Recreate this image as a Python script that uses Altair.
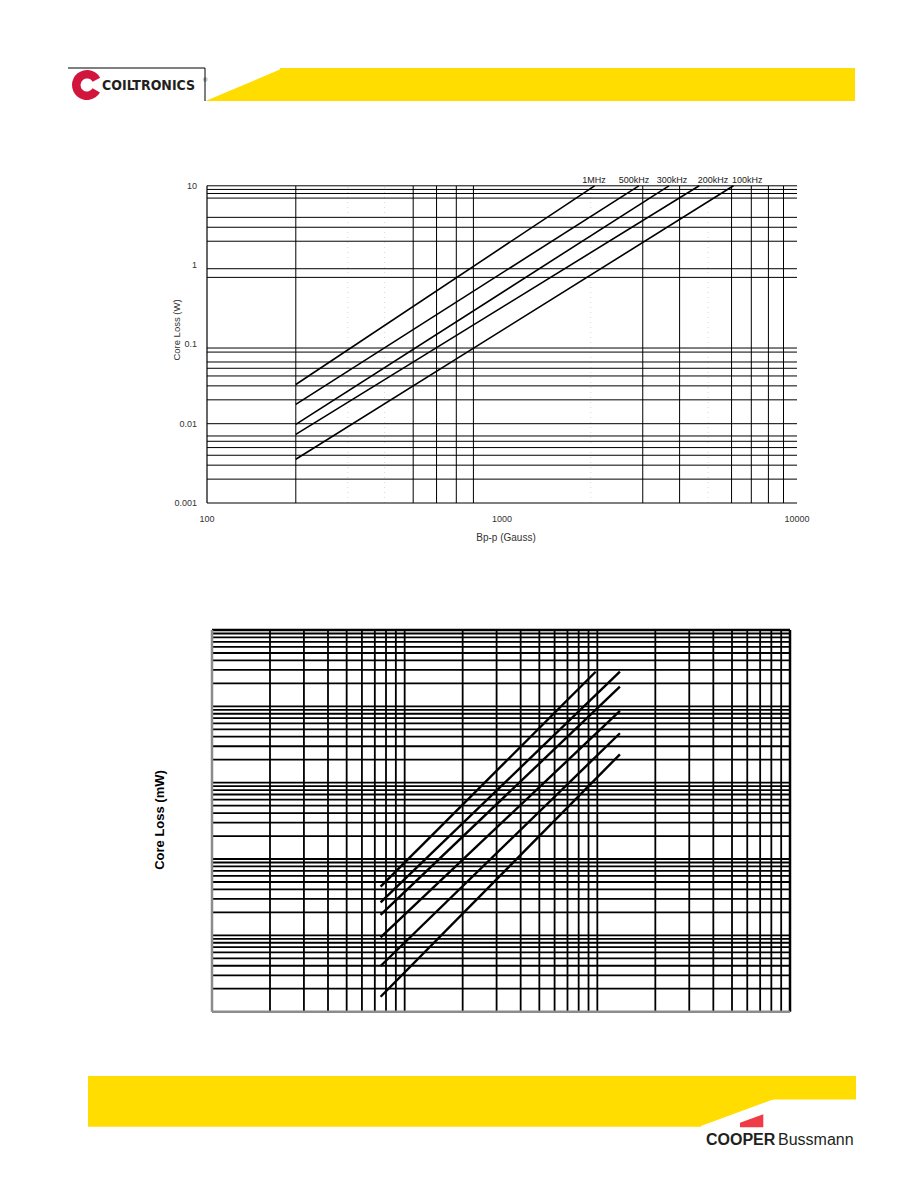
import altair as alt
import pandas as pd

# ---------------- data : upper chart (Core Loss (W) vs Bp-p (Gauss)) ----------------
top_series = ["1MHz", "500kHz", "300kHz", "200kHz", "100kHz"]
top_b_start = [200, 200, 200, 200, 200]
top_loss_start = [0.0312, 0.0175, 0.0098, 0.00733, 0.00356]
top_b_end = [2060, 2910, 3680, 4660, 6090]
top_loss_end = [10, 10, 10, 10, 10]
top_label_b = [2050, 2800, 3770, 5190, 6780]

top_x_ticks = [100, 1000, 10000]
top_x_tick_labels = ["100", "1000", "10000"]
top_y_ticks = [10, 1, 0.1, 0.01, 0.001]
top_y_tick_labels = ["10", "1", "0.1", "0.01", "0.001"]
top_x_grid = [200, 500, 600, 700, 800, 3000, 4000, 6000, 7000, 8000, 9000]
top_x_grid_faint = [300, 400, 2000, 5000]
top_y_grid = [9, 8, 7, 4, 3, 2, 0.9, 0.7, 0.09, 0.08, 0.06, 0.05, 0.04, 0.03,
              0.02, 0.01, 0.007, 0.006, 0.005, 0.004, 0.003, 0.002]

# ---------------- data : lower chart (Core Loss (mW)) ----------------
bot_series = ["s1", "s2", "s3", "s4", "s5", "s6"]
bot_b_start = [75, 75, 75, 75, 75, 75]
bot_loss_start = [0.434, 0.271, 0.185, 0.0944, 0.0397, 0.0157]
bot_b_end = [980, 1310, 1310, 1310, 1310, 1310]
bot_loss_end = [284, 284, 181, 86.9, 44.4, 23.5]
bot_x_grid = [20, 30, 40, 50, 60, 70, 80, 90, 100,
              200, 300, 400, 500, 600, 700, 800, 900, 1000,
              2000, 3000, 4000, 5000, 6000, 7000, 8000, 9000]
bot_y_grid = [0.02, 0.03, 0.04, 0.05, 0.06, 0.07, 0.08, 0.09, 0.1,
              0.2, 0.3, 0.4, 0.5, 0.6, 0.7, 0.8, 0.9, 1,
              2, 3, 4, 5, 6, 7, 8, 9, 10,
              20, 30, 40, 50, 60, 70, 80, 90, 100,
              200, 300, 400, 500, 600, 700, 800, 900]

FONT = "Liberation Sans, Arial, sans-serif"
COND = "DejaVu Sans Condensed, Liberation Sans Narrow, Liberation Sans, sans-serif"
YELLOW = "#FFDD00"

# scales (explicit pixel ranges place each panel on the page)
top_x = alt.Scale(type="log", domain=[100, 10000], range=[199, 789], nice=False)
top_y = alt.Scale(type="log", domain=[0.001, 10], range=[495, 177.8], nice=False)
bot_x = alt.Scale(type="log", domain=[10, 10000], range=[204, 782], nice=False)
bot_y = alt.Scale(type="log", domain=[0.01, 1000], range=[1003.7, 622], nice=False)

dummy = pd.DataFrame({"a": [0]})


def line_frame(series, x0, y0, x1, y1):
    rows = []
    for s, a, b, c, d in zip(series, x0, y0, x1, y1):
        rows.append({"series": s, "B": a, "loss": b})
        rows.append({"series": s, "B": c, "loss": d})
    return pd.DataFrame(rows)


def vrules(values, xs, ys, lo, hi, **mk):
    return alt.Chart(pd.DataFrame({"v": values})).mark_rule(**mk).encode(
        x=alt.X("v:Q", scale=xs, axis=None),
        y=alt.YDatum(lo, scale=ys, axis=None),
        y2=alt.Y2Datum(hi),
    )


def hrules(values, xs, ys, lo, hi, **mk):
    return alt.Chart(pd.DataFrame({"v": values})).mark_rule(**mk).encode(
        y=alt.Y("v:Q", scale=ys, axis=None),
        x=alt.XDatum(lo, scale=xs, axis=None),
        x2=alt.X2Datum(hi),
    )


def rect(x, x2, y, y2, color):
    return alt.Chart(dummy).mark_rect(color=color).encode(
        x=alt.value(x), x2=alt.value(x2), y=alt.value(y), y2=alt.value(y2))


def shape(path, cx, cy, side, color):
    return alt.Chart(dummy).mark_point(
        shape=path, filled=True, color=color, opacity=1, size=side * side, strokeWidth=0
    ).encode(x=alt.value(cx), y=alt.value(cy))


def seg(x, x2, y, y2, color="black", w=1):
    return alt.Chart(dummy).mark_rule(color=color, strokeWidth=w).encode(
        x=alt.value(x), x2=alt.value(x2), y=alt.value(y), y2=alt.value(y2))


def label(txt, x, y, **kw):
    return alt.Chart(dummy).mark_text(text=txt, **kw).encode(x=alt.value(x), y=alt.value(y))


layers = []

# ---------------- header ----------------
layers.append(rect(272, 847, 60, 93, YELLOW))
layers.append(shape("M-1,0.423 L1,-0.423 L1,0.423 Z", 236.5, 76.5, 78, YELLOW))
layers.append(seg(60, 197, 60, 60))
layers.append(seg(197, 197, 60, 93))
layers.append(alt.Chart(dummy).mark_arc(
    color="#D2153D", theta=2.1, theta2=7.35, innerRadius=6.5, outerRadius=15
).encode(x=alt.value(79), y=alt.value(77)))
layers.append(label("COILTRONICS", 94, 78, font=COND, fontSize=14, fontWeight="bold",
                    align="left", baseline="middle", color="#231f20"))
layers.append(label("®", 195, 72, font=FONT, fontSize=6, align="left", baseline="middle",
                    color="#231f20"))

# ---------------- upper chart ----------------
layers.append(vrules(top_x_grid_faint, top_x, top_y, 0.001, 10,
                     color="#d9d9d9", strokeWidth=1, strokeDash=[1, 4]))
layers.append(vrules(top_x_grid, top_x, top_y, 0.001, 10, color="black", strokeWidth=1))
layers.append(hrules(top_y_grid, top_x, top_y, 100, 10000, color="black", strokeWidth=1))
layers.append(hrules([10], top_x, top_y, 100, 10000, color="black", strokeWidth=1))
layers.append(hrules([0.001], top_x, top_y, 100, 10000, color="black", strokeWidth=1.2))
layers.append(vrules([100], top_x, top_y, 0.001, 10, color="black", strokeWidth=1.2))

top_df = line_frame(top_series, top_b_start, top_loss_start, top_b_end, top_loss_end)
layers.append(alt.Chart(top_df).mark_line(color="black", strokeWidth=1.6).encode(
    x=alt.X("B:Q", scale=top_x, axis=None),
    y=alt.Y("loss:Q", scale=top_y, axis=None),
    detail="series:N"))

layers.append(alt.Chart(pd.DataFrame({"lab": top_series, "B": top_label_b})).mark_text(
    font=FONT, fontSize=9, dy=-6, baseline="middle", color="#222").encode(
    x=alt.X("B:Q", scale=top_x, axis=None),
    y=alt.YDatum(10, scale=top_y, axis=None),
    text="lab:N"))

layers.append(alt.Chart(pd.DataFrame({"v": top_x_ticks, "t": top_x_tick_labels})).mark_text(
    font=FONT, fontSize=9, dy=16, baseline="middle", color="#333").encode(
    x=alt.X("v:Q", scale=top_x, axis=None),
    y=alt.YDatum(0.001, scale=top_y, axis=None),
    text="t:N"))

layers.append(alt.Chart(pd.DataFrame({"v": top_y_ticks, "t": top_y_tick_labels})).mark_text(
    font=FONT, fontSize=9, dx=-10, align="right", baseline="middle", color="#333").encode(
    y=alt.Y("v:Q", scale=top_y, axis=None),
    x=alt.XDatum(100, scale=top_x, axis=None),
    text="t:N"))

layers.append(label("Core Loss (W)", 169, 322, font=FONT, fontSize=9.5, angle=270,
                    align="center", baseline="middle", color="#333"))
layers.append(label("Bp-p (Gauss)", 498, 530, font=FONT, fontSize=10,
                    align="center", baseline="middle", color="#333"))

# ---------------- lower chart ----------------
layers.append(vrules(bot_x_grid, bot_x, bot_y, 0.01, 1000, color="black", strokeWidth=1.8))
layers.append(hrules(bot_y_grid, bot_x, bot_y, 10, 10000, color="black", strokeWidth=1.8))
layers.append(hrules([1000], bot_x, bot_y, 10, 10000, color="black", strokeWidth=2.5))
layers.append(vrules([10000], bot_x, bot_y, 0.01, 1000, color="black", strokeWidth=2.5))
layers.append(hrules([0.01], bot_x, bot_y, 10, 10000, color="#8c8c8c", strokeWidth=2.5))
layers.append(vrules([10], bot_x, bot_y, 0.01, 1000, color="#8c8c8c", strokeWidth=2.5))

bot_df = line_frame(bot_series, bot_b_start, bot_loss_start, bot_b_end, bot_loss_end)
layers.append(alt.Chart(bot_df).mark_line(color="black", strokeWidth=2.4).encode(
    x=alt.X("B:Q", scale=bot_x, axis=None),
    y=alt.Y("loss:Q", scale=bot_y, axis=None),
    detail="series:N"))

layers.append(label("Core Loss (mW)", 152, 812, font=FONT, fontSize=13, fontWeight="bold",
                    angle=270, align="center", baseline="middle", color="black"))

# ---------------- footer ----------------
layers.append(rect(80, 848, 1068, 1091.5, YELLOW))
layers.append(rect(80, 693, 1091, 1118.7, YELLOW))
layers.append(shape("M-1.03,-0.375 L1,-0.375 L-1.03,0.369 Z", 729.15, 1105, 74.3, YELLOW))
layers.append(shape("M-1,0.558 L-1,0.163 L1,-0.558 L1,0.558 Z", 743.65, 1112.8, 23.3, "#EE3B45"))
layers.append(label("COOPER", 698, 1137, font=FONT, fontSize=16, fontWeight="bold",
                    align="left", baseline="alphabetic", color="#231f20"))
layers.append(label("Bussmann", 770, 1137, font=FONT, fontSize=16,
                    align="left", baseline="alphabetic", color="#231f20"))

chart = alt.layer(*layers).resolve_scale(
    x="independent", y="independent"
).properties(
    width=902, height=1165, padding=0, background="white",
    autosize=alt.AutoSizeParams(type="none"),
).configure_view(stroke=None, strokeWidth=0)

chart.save("out.html", embed_options={"renderer": "svg", "actions": False})
